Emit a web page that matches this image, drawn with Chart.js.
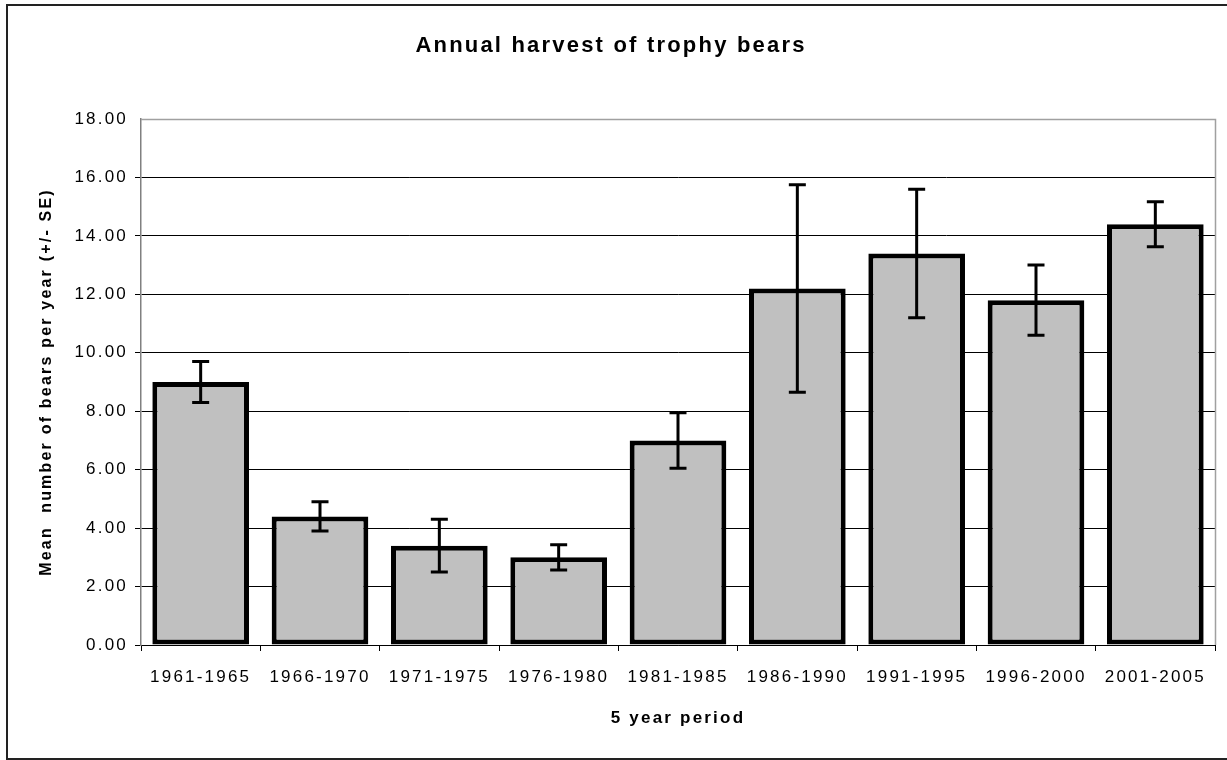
<!DOCTYPE html>
<html>
<head>
<meta charset="utf-8">
<script src="https://cdn.jsdelivr.net/npm/chart.js@4/dist/chart.umd.min.js"></script>
<style>
  html, body { margin: 0; padding: 0; background: #fff; }
  #wrap { width: 1227px; height: 760px; }
</style>
</head>
<body>
<div id="wrap"><canvas id="myChart"></canvas></div>
<script>
const periods = ["1961-1965", "1966-1970", "1971-1975", "1976-1980", "1981-1985",
                 "1986-1990", "1991-1995", "1996-2000", "2001-2005"];
const meanBears = [9.0, 4.4, 3.4, 3.0, 7.0, 12.2, 13.4, 11.8, 14.4];
const seBears = [0.7, 0.5, 0.9, 0.43, 0.95, 3.55, 2.2, 1.2, 0.77];
const yTicks = [0, 2, 4, 6, 8, 10, 12, 14, 16, 18];

const FONT = "'Liberation Sans', Arial, sans-serif";
const SPACING = '2.2px';

// wide text like the original
const spacingPlugin = {
    id: 'spacing',
    beforeUpdate(chart) { chart.ctx.letterSpacing = SPACING; },
    beforeDraw(chart) { chart.ctx.letterSpacing = SPACING; }
};

// outer frame + gray plot border on top/right
const framePlugin = {
    id: 'frame',
    beforeDraw(chart) {
        const ctx = chart.ctx;
        ctx.save();
        ctx.strokeStyle = '#222';
        ctx.lineWidth = 2;
        ctx.strokeRect(7, 5, 1240, 754);
        ctx.restore();
    },
    beforeDatasetsDraw(chart) {
        const {ctx, chartArea: a} = chart;
        ctx.save();
        ctx.strokeStyle = '#a0a0a0';
        ctx.lineWidth = 1.5;
        ctx.beginPath();
        ctx.moveTo(a.left, a.top + 0.5);
        ctx.lineTo(a.right + 0.5, a.top + 0.5);
        ctx.lineTo(a.right + 0.5, a.bottom);
        ctx.stroke();
        ctx.restore();
    }
};

// +/- SE error bars
const errorBarPlugin = {
    id: 'errorBars',
    afterDatasetsDraw(chart) {
        const ctx = chart.ctx;
        const x = chart.scales.x, y = chart.scales.y;
        ctx.save();
        ctx.strokeStyle = '#000';
        ctx.lineWidth = 3;
        meanBears.forEach((m, i) => {
            const px = x.getPixelForValue(i);
            const top = y.getPixelForValue(m + seBears[i]);
            const bot = y.getPixelForValue(m - seBears[i]);
            ctx.beginPath();
            ctx.moveTo(px, top); ctx.lineTo(px, bot);
            ctx.moveTo(px - 8.5, top); ctx.lineTo(px + 8.5, top);
            ctx.moveTo(px - 8.5, bot); ctx.lineTo(px + 8.5, bot);
            ctx.stroke();
        });
        ctx.restore();
    }
};

const ctx = document.getElementById('myChart').getContext('2d');
new Chart(ctx, {
    type: 'bar',
    data: {
        labels: periods,
        datasets: [{
            data: meanBears,
            backgroundColor: '#c0c0c0',
            borderColor: '#000',
            borderWidth: 5,
            borderSkipped: false,
            categoryPercentage: 1.0,
            barPercentage: 0.81
        }]
    },
    options: {
        responsive: true,
        maintainAspectRatio: false,
        animation: false,
        devicePixelRatio: 1,
        layout: { padding: { left: 7, right: 12, top: 0, bottom: 0 } },
        plugins: {
            legend: { display: false },
            tooltip: { enabled: false },
            title: {
                display: true,
                text: 'Annual harvest of trophy bears',
                color: '#000',
                font: { family: FONT, size: 22, weight: 'bold' },
                padding: { top: 33, bottom: 59.6 }
            }
        },
        scales: {
            x: {
                grid: { drawOnChartArea: false, drawTicks: true, tickLength: 6, color: '#000', offset: true },
                border: { color: '#000', width: 1 },
                ticks: { color: '#000', font: { family: FONT, size: 17 }, padding: 16, maxRotation: 0 },
                title: {
                    display: true,
                    text: '5 year period',
                    color: '#000',
                    font: { family: FONT, size: 17, weight: 'bold' },
                    padding: { top: 0, bottom: 31 }
                },
                afterFit(scale) { scale.height = 115; }
            },
            y: {
                min: 0,
                max: 18,
                afterBuildTicks(scale) { scale.ticks = yTicks.map(v => ({ value: v })); },
                grid: {
                    drawTicks: true,
                    tickLength: 6,
                    lineWidth: 1,
                    color: c => (c.tick && c.tick.value === 18) ? 'rgba(0,0,0,0)' : '#000'
                },
                border: { color: '#808080', width: 1.5 },
                ticks: {
                    color: '#000',
                    font: { family: FONT, size: 17 },
                    padding: 7,
                    callback: v => Number(v).toFixed(2)
                },
                title: {
                    display: true,
                    text: 'Mean  number of bears per year (+/- SE)',
                    color: '#000',
                    font: { family: FONT, size: 16, weight: 'bold' },
                    padding: { top: 30, bottom: 0 }
                },
                afterFit(scale) { scale.width = 134; }
            }
        }
    },
    plugins: [spacingPlugin, framePlugin, errorBarPlugin]
});
</script>
</body>
</html>
